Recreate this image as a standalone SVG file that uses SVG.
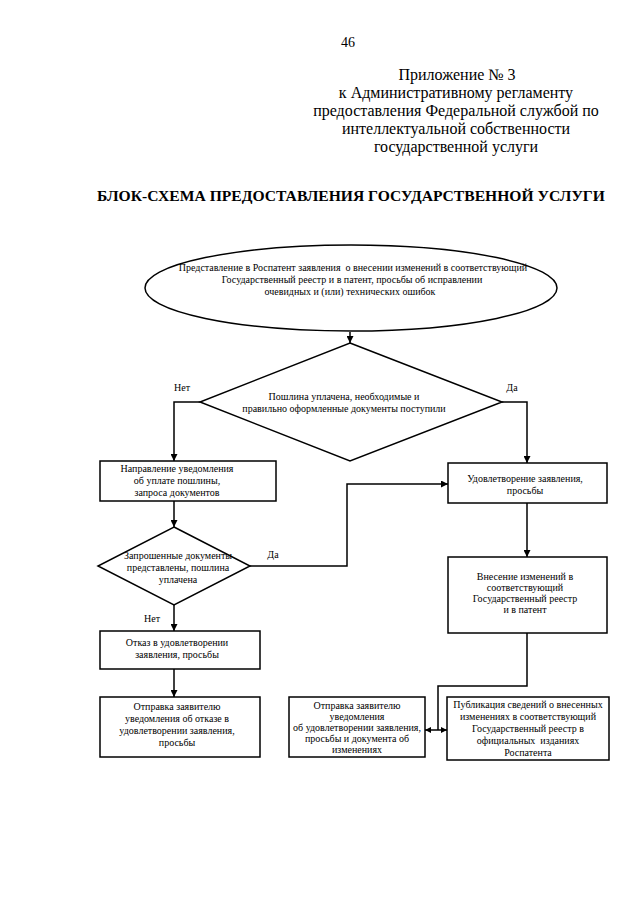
<svg xmlns="http://www.w3.org/2000/svg" width="640" height="905" viewBox="0 0 640 905">
<defs>
<marker id="arr" viewBox="0 0 10 10" refX="10" refY="5" markerWidth="7" markerHeight="7" markerUnits="userSpaceOnUse" orient="auto">
<path d="M0,0 L10,5 L0,10 z" fill="#000"/>
</marker>
<marker id="arrs" viewBox="0 0 10 10" refX="10" refY="5" markerWidth="6" markerHeight="6" markerUnits="userSpaceOnUse" orient="auto">
<path d="M0,0 L10,5 L0,10 z" fill="#000"/>
</marker>
</defs>
<style>
.hd{font-family:"Liberation Serif","Times New Roman",serif;font-size:16px;fill:#000;text-anchor:middle}
.ttl{font-family:"Liberation Serif","Times New Roman",serif;font-size:15.6px;font-weight:bold;fill:#000;text-anchor:middle}
.t{font-family:"Liberation Serif","Times New Roman",serif;font-size:10px;fill:#000;text-anchor:middle}
.lb{font-family:"Liberation Serif","Times New Roman",serif;font-size:10px;fill:#000;text-anchor:middle}
.shape{fill:#fff;stroke:#000;stroke-width:1.5}
.ln{fill:none;stroke:#000;stroke-width:1.5}
</style>
<rect width="640" height="905" fill="#fff"/>
<g id="header">
<text class="hd" x="348" y="47" style="font-size:14px">46</text>
<text class="hd" x="457" y="80">Приложение № 3</text>
<text class="hd" x="456" y="98">к Административному регламенту</text>
<text class="hd" x="456" y="116">предоставления Федеральной службой по</text>
<text class="hd" x="456" y="134">интеллектуальной собственности</text>
<text class="hd" x="456" y="152">государственной услуги</text>
<text class="ttl" x="351" y="201">БЛОК-СХЕМА ПРЕДОСТАВЛЕНИЯ ГОСУДАРСТВЕННОЙ УСЛУГИ</text>
</g>
<g id="connectors">
<path class="ln" d="M350,332 L350,343" marker-end="url(#arr)"/>
<path class="ln" d="M200,402 L174,402 L174,461" marker-end="url(#arr)"/>
<path class="ln" d="M502,402 L527,402 L527,463" marker-end="url(#arr)"/>
<path class="ln" d="M174,501 L174,527" marker-end="url(#arr)"/>
<path class="ln" d="M250,566 L347,566 L347,484 L448,484" marker-end="url(#arr)"/>
<path class="ln" d="M174,605 L174,631" marker-end="url(#arr)"/>
<path class="ln" d="M174,669 L174,697" marker-end="url(#arr)"/>
<path class="ln" d="M527,503 L527,557" marker-end="url(#arr)"/>
<path class="ln" d="M527,633 L527,686 L438,686 L438,730"/>
<path class="ln" d="M438,730 L425,730" marker-end="url(#arrs)"/>
<path class="ln" d="M438,730 L447,730" marker-end="url(#arrs)"/>
<text class="lb" x="182" y="391">Нет</text>
<text class="lb" x="512" y="391">Да</text>
<text class="lb" x="273" y="558">Да</text>
<text class="lb" x="152" y="622">Нет</text>
</g>
<g id="start">
<ellipse class="shape" cx="351" cy="288" rx="206" ry="43"/>
<text class="t" x="353" y="271" xml:space="preserve">Представление в Роспатент заявления  о внесении изменений в соответствующий</text>
<text class="t" x="352" y="283">Государственный реестр и в патент, просьбы об исправлении</text>
<text class="t" x="350" y="295">очевидных и (или) технических ошибок</text>
</g>
<g id="decision1">
<polygon class="shape" points="350,343 502,402 350,461 200,402"/>
<text class="t" x="344" y="400">Пошлина уплачена, необходимые и</text>
<text class="t" x="344" y="412">правильно оформленные документы поступили</text>
</g>
<g id="notify">
<rect class="shape" x="100" y="461" width="176" height="40"/>
<text class="t" x="177" y="472">Направление уведомления</text>
<text class="t" x="177" y="484">об уплате пошлины,</text>
<text class="t" x="177" y="496">запроса документов</text>
</g>
<g id="decision2">
<polygon class="shape" points="174,527 250,566 174,605 98,566"/>
<text class="t" x="178" y="559">Запрошенные документы</text>
<text class="t" x="178" y="571">представлены, пошлина</text>
<text class="t" x="178" y="583">уплачена</text>
</g>
<g id="refusal">
<rect class="shape" x="100" y="631" width="160" height="38"/>
<text class="t" x="177" y="646">Отказ в удовлетворении</text>
<text class="t" x="177" y="658">заявления, просьбы</text>
</g>
<g id="refusal-notice">
<rect class="shape" x="100" y="697" width="160" height="60"/>
<text class="t" x="177" y="710">Отправка заявителю</text>
<text class="t" x="177" y="722">уведомления об отказе в</text>
<text class="t" x="177" y="734">удовлетворении заявления,</text>
<text class="t" x="177" y="746">просьбы</text>
</g>
<g id="approval">
<rect class="shape" x="448" y="463" width="159" height="40"/>
<text class="t" x="525" y="482">Удовлетворение заявления,</text>
<text class="t" x="525" y="494">просьбы</text>
</g>
<g id="changes">
<rect class="shape" x="448" y="557" width="159" height="76"/>
<text class="t" x="525" y="580">Внесение изменений в</text>
<text class="t" x="525" y="591">соответствующий</text>
<text class="t" x="525" y="602">Государственный реестр</text>
<text class="t" x="525" y="613">и в патент</text>
</g>
<g id="approval-notice">
<rect class="shape" x="289" y="697" width="136" height="60"/>
<text class="t" x="357" y="709">Отправка заявителю</text>
<text class="t" x="357" y="720">уведомления</text>
<text class="t" x="357" y="731">об удовлетворении заявления,</text>
<text class="t" x="357" y="742">просьбы и документа об</text>
<text class="t" x="357" y="753">изменениях</text>
</g>
<g id="publication">
<rect class="shape" x="447" y="697" width="162" height="63"/>
<text class="t" x="528" y="708">Публикация сведений о внесенных</text>
<text class="t" x="528" y="720">изменениях в соответствующий</text>
<text class="t" x="528" y="732">Государственный реестр в</text>
<text class="t" x="528" y="744" xml:space="preserve">официальных  изданиях</text>
<text class="t" x="528" y="756">Роспатента</text>
</g>
</svg>
